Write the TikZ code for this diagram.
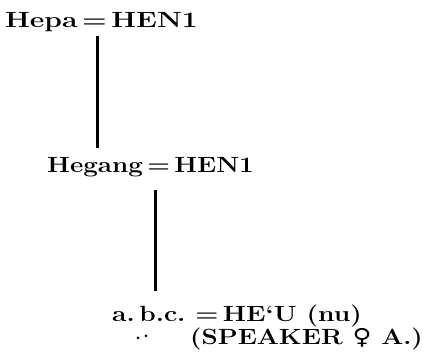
\documentclass[tikz,border=0pt]{standalone}
\usepackage{fontspec}
\newfontfamily\symfont{DejaVu Sans}
\usepackage{graphicx}
\begin{document}
\begin{tikzpicture}[x=1pt,y=1pt,
  lbl/.style={anchor=base west,inner sep=0pt,font=\fontsize{22}{24}\selectfont\bfseries},
  link/.style={line width=3pt},
  dot/.style={circle,fill,inner sep=0pt,minimum size=3pt}]
\useasboundingbox (0,0) rectangle (448,-355);
% three levels of the naming chain
\node[lbl] (top) at (5,-28) {\scalebox{1.28}[1]{Hepa\,=\,HEN1}};
\node[lbl] (mid) at (47,-173) {\scalebox{1.18}[1]{Hegang\,=\,HEN1}};
\node[lbl] (bot) at (112,-322) {\scalebox{1.2}[1]{a.\,b.c.\ =\,HE‘U (nu)}};
\node[lbl] (spk) at (190,-345) {\scalebox{1.18}[1]{(SPEAKER {\symfont ♀} A.)}};
\node[dot] (d1) at (138,-338) {};
\node[dot] (d2) at (146,-336) {};
% vertical links
\draw[link] (top.south -| 97,0) ++(0,-4) coordinate (l1a) -- ([yshift=10pt]mid.north -| l1a);
\draw[link] (mid.south -| 155,0) ++(0,-12) coordinate (l2a) -- ([yshift=14pt]bot.north -| l2a);
\end{tikzpicture}
\end{document}
